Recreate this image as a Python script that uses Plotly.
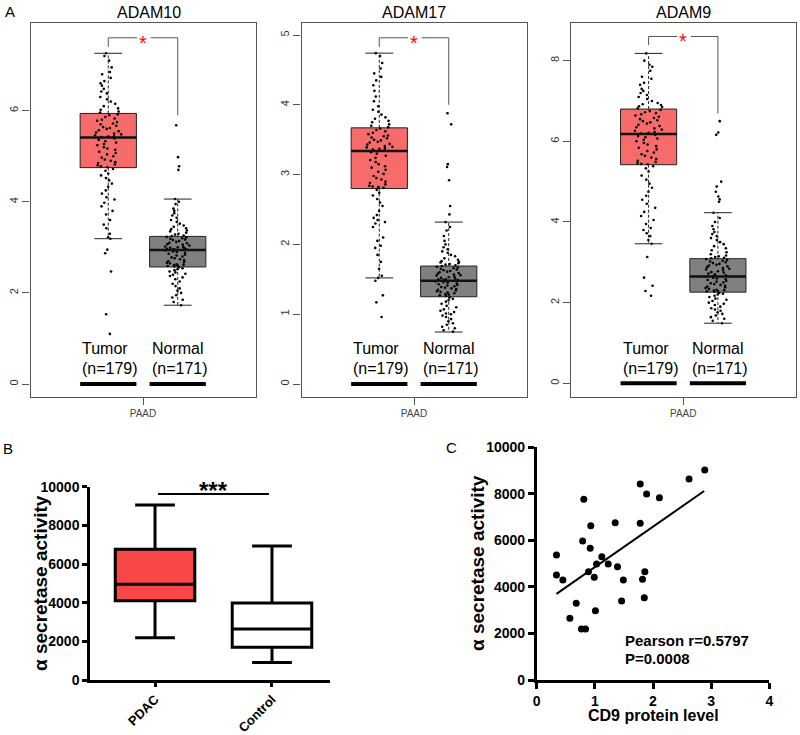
import plotly.graph_objects as go

W, H = 800, 735


def px(x):
    return x / W


def py(y):
    return 1 - y / H


# ---------------- Panel A data ----------------
groups = ["Tumor", "Normal"]
group_counts = ["(n=179)", "(n=171)"]
genes = ["ADAM10", "ADAM17", "ADAM9"]

# box stats: [lower whisker, q1, median, q3, upper whisker]
adam10_stats = {"Tumor": [3.19, 4.75, 5.41, 5.94, 7.26], "Normal": [1.73, 2.57, 2.94, 3.24, 4.06]}
adam17_stats = {"Tumor": [1.52, 2.80, 3.34, 3.67, 4.74], "Normal": [0.745, 1.25, 1.48, 1.69, 2.32]}
adam9_stats = {"Tumor": [3.46, 5.42, 6.18, 6.80, 8.18], "Normal": [1.49, 2.26, 2.65, 3.09, 4.23]}

adam10_tumor = [7.26, 7.2, 7.1, 6.95, 6.85, 6.8, 6.72, 6.65, 6.6, 6.55, 6.48, 6.42, 6.38, 6.3, 6.25, 6.2, 6.15, 6.1, 6.05, 6.02, 5.98, 5.96,
                5.92, 5.9, 5.86, 5.83, 5.8, 5.78, 5.75, 5.72, 5.7, 5.67, 5.64, 5.62, 5.6, 5.57, 5.55, 5.52, 5.5, 5.48, 5.46, 5.44, 5.43, 5.42,
                5.39, 5.36, 5.33, 5.3, 5.27, 5.24, 5.2, 5.17, 5.14, 5.1, 5.07, 5.04, 5.0, 4.97, 4.93, 4.9, 4.87, 4.85, 4.82, 4.8, 4.78, 4.76,
                4.72, 4.68, 4.62, 4.58, 4.52, 4.47, 4.4, 4.33, 4.25, 4.18, 4.1, 4.05, 3.98, 3.9, 3.8, 3.72, 3.6, 3.5, 3.42, 3.3, 3.22, 3.19,
                2.95, 2.87, 2.47, 1.53, 1.10]
adam10_normal = [4.06, 4.0, 3.95, 3.85, 3.8, 3.75, 3.7, 3.65, 3.6, 3.56, 3.52, 3.48, 3.45, 3.42, 3.4, 3.37, 3.35, 3.32, 3.3, 3.28, 3.26, 3.25,
                 3.23, 3.22, 3.2, 3.19, 3.17, 3.16, 3.14, 3.12, 3.1, 3.09, 3.07, 3.06, 3.04, 3.02, 3.01, 3.0, 2.99, 2.98, 2.97, 2.96, 2.95, 2.95,
                 2.93, 2.91, 2.9, 2.88, 2.86, 2.84, 2.82, 2.8, 2.78, 2.76, 2.74, 2.72, 2.7, 2.68, 2.66, 2.65, 2.63, 2.62, 2.61, 2.6, 2.59, 2.58,
                 2.56, 2.54, 2.52, 2.5, 2.47, 2.45, 2.42, 2.4, 2.37, 2.34, 2.3, 2.25, 2.2, 2.15, 2.1, 2.05, 2.0, 1.95, 1.9, 1.85, 1.8, 1.73,
                 5.68, 4.98, 4.78, 4.70]
adam17_tumor = [4.74, 4.7, 4.6, 4.52, 4.45, 4.4, 4.35, 4.28, 4.2, 4.12, 4.05, 3.98, 3.93, 3.9, 3.86, 3.82, 3.8, 3.77, 3.75, 3.72, 3.7, 3.68,
                3.66, 3.64, 3.62, 3.6, 3.58, 3.56, 3.55, 3.53, 3.52, 3.5, 3.49, 3.47, 3.46, 3.44, 3.43, 3.41, 3.4, 3.39, 3.38, 3.37, 3.36, 3.35,
                3.32, 3.3, 3.27, 3.24, 3.21, 3.18, 3.15, 3.12, 3.1, 3.07, 3.04, 3.01, 2.98, 2.95, 2.93, 2.9, 2.88, 2.86, 2.84, 2.83, 2.82, 2.81,
                2.78, 2.74, 2.7, 2.65, 2.6, 2.55, 2.48, 2.42, 2.38, 2.35, 2.32, 2.3, 2.25, 2.1, 2.05, 1.98, 1.95, 1.85, 1.75, 1.65, 1.55, 1.52,
                1.48, 1.27, 1.17, 0.96]
adam17_normal = [2.32, 2.25, 2.2, 2.12, 2.05, 2.0, 1.96, 1.93, 1.9, 1.88, 1.85, 1.83, 1.8, 1.78, 1.76, 1.75, 1.74, 1.73, 1.72, 1.71, 1.7, 1.69,
                 1.68, 1.67, 1.66, 1.65, 1.64, 1.63, 1.62, 1.61, 1.6, 1.59, 1.58, 1.57, 1.56, 1.55, 1.54, 1.53, 1.52, 1.51, 1.5, 1.5, 1.49, 1.49,
                 1.47, 1.46, 1.45, 1.44, 1.43, 1.42, 1.41, 1.4, 1.39, 1.38, 1.37, 1.36, 1.35, 1.34, 1.33, 1.32, 1.31, 1.3, 1.29, 1.28, 1.27, 1.26,
                 1.24, 1.22, 1.2, 1.18, 1.15, 1.12, 1.1, 1.07, 1.05, 1.03, 1.01, 1.0, 0.98, 0.96, 0.93, 0.9, 0.87, 0.85, 0.82, 0.8, 0.77, 0.75,
                 3.88, 3.72, 3.15, 3.11, 2.92, 2.55, 2.43]
adam9_tumor = [8.18, 8.0, 7.9, 7.85, 7.75, 7.6, 7.55, 7.45, 7.4, 7.3, 7.25, 7.2, 7.15, 7.1, 7.05, 7.0, 6.95, 6.92, 6.9, 6.87, 6.85, 6.82,
               6.78, 6.75, 6.72, 6.7, 6.67, 6.64, 6.61, 6.58, 6.55, 6.52, 6.5, 6.47, 6.44, 6.41, 6.38, 6.35, 6.32, 6.29, 6.26, 6.23, 6.21, 6.19,
               6.16, 6.13, 6.1, 6.07, 6.04, 6.0, 5.96, 5.92, 5.88, 5.84, 5.8, 5.76, 5.72, 5.68, 5.64, 5.6, 5.56, 5.52, 5.49, 5.46, 5.44, 5.43,
               5.38, 5.33, 5.25, 5.15, 5.05, 4.95, 4.85, 4.75, 4.65, 4.55, 4.45, 4.35, 4.25, 4.15, 4.05, 3.95, 3.85, 3.8, 3.72, 3.65, 3.55, 3.46,
               3.13, 2.62, 2.42, 2.29, 2.17]
adam9_normal = [4.23, 4.1, 4.0, 3.9, 3.82, 3.75, 3.7, 3.65, 3.6, 3.55, 3.5, 3.45, 3.4, 3.35, 3.3, 3.25, 3.2, 3.17, 3.15, 3.13, 3.11, 3.1,
                3.08, 3.06, 3.04, 3.02, 3.0, 2.98, 2.96, 2.94, 2.92, 2.9, 2.88, 2.86, 2.84, 2.82, 2.8, 2.78, 2.76, 2.74, 2.72, 2.7, 2.68, 2.66,
                2.64, 2.62, 2.6, 2.58, 2.56, 2.54, 2.52, 2.5, 2.48, 2.46, 2.44, 2.42, 2.4, 2.38, 2.36, 2.34, 2.32, 2.31, 2.3, 2.29, 2.28, 2.27,
                2.24, 2.22, 2.2, 2.17, 2.14, 2.1, 2.07, 2.04, 2.0, 1.97, 1.94, 1.9, 1.86, 1.83, 1.8, 1.76, 1.72, 1.68, 1.64, 1.6, 1.55, 1.49,
                6.5, 6.22, 6.16, 5.0, 4.88, 4.75, 4.63, 4.56, 4.5]

# significance brackets: [left leg bottom, top, right leg bottom]
brackets = [[7.4, 7.6, 5.9], [4.83, 4.96, 4.0], [8.39, 8.6, 6.69]]
a_yticks = [[0, 2, 4, 6], [0, 1, 2, 3, 4, 5], [0, 2, 4, 6, 8]]

# ---------------- Panel B data ----------------
b_categories = ["PDAC", "Control"]
pdac_stats = [2190, 4100, 4950, 6760, 9053]
control_stats = [900, 1690, 2640, 3980, 6930]
b_sig_y = 9620
b_yticks = [0, 2000, 4000, 6000, 8000, 10000]

# ---------------- Panel C data ----------------
cd9_level = [0.34, 0.34, 0.45, 0.57, 0.68, 0.79, 0.81, 0.77, 0.84, 0.89, 0.92, 0.93, 0.99, 1.01, 1.03,
             1.12, 1.23, 1.35, 1.39, 1.46, 1.49, 1.78, 1.78, 1.82, 1.86, 1.85, 1.89, 2.11, 2.62, 2.89]
secretase = [5372, 4513, 4298, 2650, 3295, 5974, 7765, 2192, 2192, 4656, 5659, 6633, 4413, 2980, 4986,
             5301, 4986, 6762, 4871, 3395, 4298, 8424, 6733, 4327, 4656, 3539, 7994, 7837, 8639, 9026]
reg_x = [0.34, 2.88]
reg_y = [3700, 8120]
c_xticks = [0, 1, 2, 3, 4]
c_yticks = [0, 2000, 4000, 6000, 8000, 10000]

# ---------------- styling ----------------
FONT = "Liberation Sans, Arial, Helvetica, sans-serif"
TUMOR_FILL = "#F86B6B"
NORMAL_FILL = "#808080"
PDAC_FILL = "#F94646"
FRAME = "#555555"
BW = 0.81

fig = go.Figure()

a_stats = [adam10_stats, adam17_stats, adam9_stats]
a_points = [[adam10_tumor, adam10_normal], [adam17_tumor, adam17_normal], [adam9_tumor, adam9_normal]]
a_fills = [TUMOR_FILL, NORMAL_FILL]
a_xdom = [(30.5, 255.5), (301.5, 526.5), (571.0, 795.5)]
a_yrange = [(-0.285, 7.925), (-0.186, 5.172), (-0.34, 8.934)]
a_title_x = [149, 414, 683]

annotations = []


def label(x, y, text, size, bold=False, angle=0, xanchor="center", color="black"):
    return dict(x=px(x), y=py(y), xref="paper", yref="paper",
                text=f"<b>{text}</b>" if bold else text, showarrow=False,
                xanchor=xanchor, yanchor="middle", textangle=angle,
                font=dict(family=FONT, size=size, color=color))


for i in range(3):
    xa = "x" if i == 0 else f"x{i + 1}"
    ya = "y" if i == 0 else f"y{i + 1}"
    for gi, grp in enumerate(groups):
        st = a_stats[i][grp]
        pos = gi
        fig.add_trace(go.Box(x=[pos], q1=[st[1]], median=[st[2]], q3=[st[3]],
                             lowerfence=[st[1]], upperfence=[st[3]], width=BW, whiskerwidth=0,
                             fillcolor=a_fills[gi], line=dict(color="#222222", width=1),
                             boxpoints=False, hoverinfo="skip", xaxis=xa, yaxis=ya))
        fig.add_trace(go.Box(x0=pos, y=a_points[i][gi], boxpoints="all", jitter=0.5, pointpos=0,
                             width=BW, fillcolor="rgba(0,0,0,0)", line=dict(color="rgba(0,0,0,0)"),
                             marker=dict(color="black", size=2.6), hoverinfo="skip",
                             xaxis=xa, yaxis=ya))
        # dashed whiskers
        fig.add_trace(go.Scatter(x=[pos, pos, None, pos, pos],
                                 y=[st[3], st[4], None, st[1], st[0]], mode="lines",
                                 line=dict(color="#222222", width=1, dash="3px,2px"),
                                 hoverinfo="skip", xaxis=xa, yaxis=ya))
        # whisker caps
        fig.add_trace(go.Scatter(x=[pos - 0.2, pos + 0.2, None, pos - 0.2, pos + 0.2],
                                 y=[st[4], st[4], None, st[0], st[0]], mode="lines",
                                 line=dict(color="#222222", width=1),
                                 hoverinfo="skip", xaxis=xa, yaxis=ya))
        # thick median
        fig.add_trace(go.Scatter(x=[pos - BW / 2, pos + BW / 2], y=[st[2], st[2]], mode="lines",
                                 line=dict(color="#111111", width=2.5),
                                 hoverinfo="skip", xaxis=xa, yaxis=ya))
        # thick bar at zero
        fig.add_trace(go.Scatter(x=[pos - BW / 2, pos + BW / 2], y=[0, 0], mode="lines",
                                 line=dict(color="black", width=4),
                                 hoverinfo="skip", xaxis=xa, yaxis=ya))
        annotations.append(dict(x=pos - BW / 2, xref=xa, y=py(348), yref="paper", text=grp,
                                showarrow=False, xanchor="left", yanchor="middle",
                                font=dict(family=FONT, size=16, color="black")))
        annotations.append(dict(x=pos - BW / 2, xref=xa, y=py(368), yref="paper", text=group_counts[gi],
                                showarrow=False, xanchor="left", yanchor="middle",
                                font=dict(family=FONT, size=16, color="black")))
    lb, top, rb = brackets[i]
    fig.add_trace(go.Scatter(x=[0, 0, 0.415, None, 0.61, 1, 1], y=[lb, top, top, None, top, top, rb],
                             mode="lines", line=dict(color=FRAME, width=1),
                             hoverinfo="skip", xaxis=xa, yaxis=ya))
    annotations.append(dict(x=0.5, xref=xa, y=top, yref=ya, text="*", showarrow=False,
                            xanchor="center", yanchor="middle",
                            yshift=-5, font=dict(family=FONT, size=20, color="#FF0000")))
    annotations.append(label(a_title_x[i], 13, genes[i], 16))

    xl, xr = a_xdom[i]
    xkey = "xaxis" if i == 0 else f"xaxis{i + 1}"
    ykey = "yaxis" if i == 0 else f"yaxis{i + 1}"
    fig.layout[xkey] = dict(domain=[px(xl), px(xr)], range=[-1.12, 2.12], anchor=ya,
                            showline=True, mirror=True, linecolor=FRAME, linewidth=1.2,
                            ticks="outside", ticklen=7, tickcolor=FRAME, tickwidth=1.2,
                            tickvals=[0.5], ticktext=["PAAD"], automargin=False,
                            tickfont=dict(family=FONT, size=10, color="#444444"),
                            showgrid=False, zeroline=False, fixedrange=True)
    fig.layout[ykey] = dict(domain=[py(397), py(23)], range=list(a_yrange[i]), anchor=xa,
                            showline=True, mirror=True, linecolor=FRAME, linewidth=1.2,
                            ticks="outside", ticklen=7, tickcolor=FRAME, tickwidth=1.2,
                            tickvals=a_yticks[i], tickangle=-90, automargin=False,
                            tickfont=dict(family=FONT, size=11, color="#333333"),
                            showgrid=False, zeroline=False, fixedrange=True)

# ---------------- Panel B ----------------
for ci, (st, fill) in enumerate([(pdac_stats, PDAC_FILL), (control_stats, "white")]):
    fig.add_trace(go.Box(x=[ci], q1=[st[1]], median=[st[2]], q3=[st[3]],
                         lowerfence=[st[0]], upperfence=[st[4]], width=0.68, whiskerwidth=0.5,
                         fillcolor=fill, line=dict(color="black", width=3),
                         boxpoints=False, hoverinfo="skip", xaxis="x4", yaxis="y4"))
fig.add_trace(go.Scatter(x=[0.026, 0.974], y=[b_sig_y, b_sig_y], mode="lines",
                         line=dict(color="black", width=2), hoverinfo="skip",
                         xaxis="x4", yaxis="y4"))
annotations.append(dict(x=0.5, xref="x4", y=py(484), yref="paper", text="<b>***</b>", showarrow=False,
                        xanchor="center", yanchor="middle",
                        yshift=-6, font=dict(family=FONT, size=24, color="black")))

fig.layout.xaxis4 = dict(domain=[px(90), px(330)], range=[-0.556, 1.496], anchor="y4",
                         showline=True, linecolor="black", linewidth=2.5,
                         ticks="outside", ticklen=4, tickwidth=2.5, tickcolor="black",
                         tickvals=[0, 1], ticktext=b_categories, tickangle=-45, automargin=False,
                         tickfont=dict(family=FONT, size=13, color="black", weight="bold"),
                         showgrid=False, zeroline=False, fixedrange=True)
fig.layout.yaxis4 = dict(domain=[py(680), py(486.7)], range=[0, 10000], anchor="x4",
                         showline=True, linecolor="black", linewidth=2.5,
                         ticks="outside", ticklen=5, tickwidth=2.5, tickcolor="black",
                         tickvals=b_yticks, tickformat="d", automargin=False,
                         tickfont=dict(family=FONT, size=14, color="black", weight="bold"),
                         showgrid=False, zeroline=False, fixedrange=True)

# ---------------- Panel C ----------------
fig.add_trace(go.Scatter(x=cd9_level, y=secretase, mode="markers",
                         marker=dict(color="black", size=7), hoverinfo="skip",
                         xaxis="x5", yaxis="y5"))
fig.add_trace(go.Scatter(x=reg_x, y=reg_y, mode="lines", line=dict(color="black", width=2),
                         hoverinfo="skip", xaxis="x5", yaxis="y5"))
fig.layout.xaxis5 = dict(domain=[px(536.7), px(769.3)], range=[0, 4], anchor="y5",
                         showline=True, linecolor="black", linewidth=2.5,
                         ticks="outside", ticklen=6, tickwidth=2.5, tickcolor="black",
                         tickvals=c_xticks, automargin=False,
                         tickfont=dict(family=FONT, size=14, color="black", weight="bold"),
                         showgrid=False, zeroline=False, fixedrange=True)
fig.layout.yaxis5 = dict(domain=[py(680), py(447.3)], range=[0, 10000], anchor="x5",
                         showline=True, linecolor="black", linewidth=2.5,
                         ticks="outside", ticklen=6, tickwidth=2.5, tickcolor="black",
                         tickvals=c_yticks, tickformat="d", automargin=False,
                         tickfont=dict(family=FONT, size=14, color="black", weight="bold"),
                         showgrid=False, zeroline=False, fixedrange=True)

annotations += [
    label(623, 640, "Pearson r=0.5797", 15, bold=True, xanchor="left"),
    label(623, 658, "P=0.0008", 15, bold=True, xanchor="left"),
    label(653, 715, "CD9 protein level", 16, bold=True),
    label(477, 563, "α secretase activity", 19, bold=True, angle=-90),
    label(40, 583, "α secretase activity", 19, bold=True, angle=-90),
    label(9.5, 12, "A", 15),
    label(8, 448, "B", 15),
    label(452, 447.5, "C", 15),
]

fig.update_layout(template="none", width=W, height=H, margin=dict(l=0, r=0, t=0, b=0, pad=0),
                  paper_bgcolor="white", plot_bgcolor="white", showlegend=False,
                  boxmode="overlay", annotations=annotations,
                  font=dict(family=FONT))

fig.write_html("out.html", config={"displayModeBar": False},
               post_script="document.body.style.margin='0px';document.body.style.overflow='hidden';")
